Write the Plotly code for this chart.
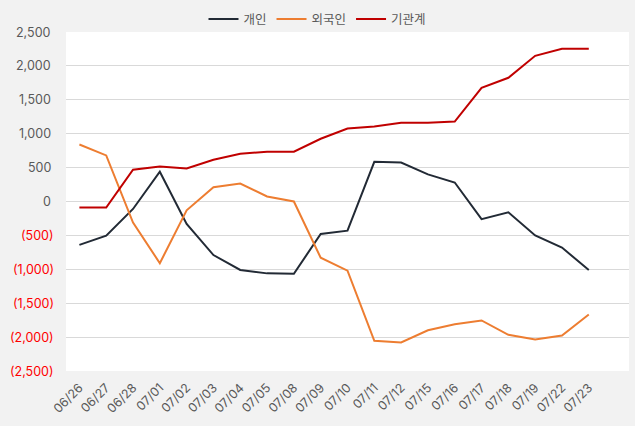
import plotly.graph_objects as go

dates = ["06/26","06/27","06/28","07/01","07/02","07/03","07/04","07/05","07/08","07/09",
         "07/10","07/11","07/12","07/15","07/16","07/17","07/18","07/19","07/22","07/23"]
individual = [-640,-505,-110,440,-330,-790,-1010,-1060,-1065,-480,
              -430,585,575,400,280,-260,-160,-500,-680,-1010]
foreign = [840,680,-310,-910,-130,210,265,75,0,-830,
           -1020,-2055,-2080,-1900,-1810,-1755,-1966,-2035,-1976,-1667]
institution = [-90,-90,468,516,487,615,704,733,735,925,
               1077,1106,1161,1161,1180,1677,1825,2149,2252,2252]
ytick_vals = [2500,2000,1500,1000,500,0,-500,-1000,-1500,-2000,-2500]

def fmt(v):
    return f"{v:,}" if v >= 0 else f"({abs(v):,})"

FONT = "Inter, 'Noto Sans CJK KR', sans-serif"

fig = go.Figure()
fig.add_trace(go.Scatter(x=dates, y=individual, name="개인", mode="lines",
                         line=dict(color="#222a35", width=2)))
fig.add_trace(go.Scatter(x=dates, y=foreign, name="외국인", mode="lines",
                         line=dict(color="#ed7d31", width=2)))
fig.add_trace(go.Scatter(x=dates, y=institution, name="기관계", mode="lines",
                         line=dict(color="#c00000", width=2)))

annotations = []
for v in ytick_vals:
    annotations.append(dict(
        x=0, xref="paper", y=v, yref="y", xanchor="right", yanchor="middle",
        xshift=-13 if v >= 0 else -10, showarrow=False, text=fmt(v),
        font=dict(family=FONT, size=12.5, color="#595959" if v >= 0 else "#ff0000")))

fig.update_layout(
    width=635, height=426,
    margin=dict(l=66, r=6, t=32, b=55, autoexpand=False),
    paper_bgcolor="#f2f2f2", plot_bgcolor="#ffffff",
    font=dict(family=FONT, size=12, color="#595959"),
    showlegend=True,
    legend=dict(orientation="h", xref="container", x=0.5, xanchor="center",
                yref="container", y=0.99, yanchor="top",
                font=dict(family=FONT, size=12.5, color="#595959"),
                bgcolor="rgba(0,0,0,0)", tracegroupgap=0),
    xaxis=dict(type="category", range=[-0.5, 20.5], tickangle=-45,
               showgrid=False, showline=False, ticks="", ticklabelstandoff=6,
               tickfont=dict(family=FONT, size=12.5, color="#595959")),
    yaxis=dict(range=[-2500, 2500], tickvals=ytick_vals, showticklabels=False,
               showgrid=True, gridcolor="#d9d9d9", gridwidth=1,
               zeroline=True, zerolinecolor="#d9d9d9", zerolinewidth=1,
               showline=False, ticks=""),
    annotations=annotations,
    hovermode=False,
)

fig.write_html("out.html")
